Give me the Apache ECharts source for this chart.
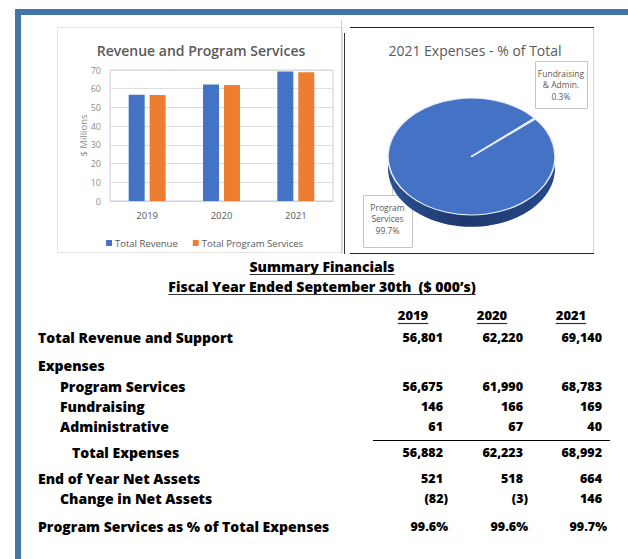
<!DOCTYPE html>
<html><head><meta charset="utf-8">
<script src="https://cdn.jsdelivr.net/npm/echarts@6/dist/echarts.min.js"></script>
<style>
html,body{margin:0;padding:0;background:#fff;overflow:hidden;}
#main{position:absolute;left:0;top:0;width:628px;height:559px;}
#pie{position:absolute;left:380px;top:90px;width:184px;height:200px;transform:scaleY(0.7);transform-origin:0 0;}
</style></head><body>
<div id="main"></div><div id="pie"></div>
<script>
// ---------- data ----------
const years = ['2019', '2020', '2021'];
const totalRevenue = [56.801, 62.220, 69.140];          // $ millions
const totalProgramServices = [56.675, 61.990, 68.783];  // $ millions
const yMin = 0, yMax = 70, yInterval = 10;

const pieNames = ['Program Services', 'Fundraising & Admin.'];
const pieLabelLines = [['Program', 'Services'], ['Fundraising', '& Admin.']];
const pieValues = [99.7, 0.3];

const rowLabels = ['Total Revenue and Support', 'Expenses', 'Program Services', 'Fundraising',
  'Administrative', 'Total Expenses', 'End of Year Net Assets', 'Change in Net Assets',
  'Program Services as % of Total Expenses'];
const rowFormats = ['int', 'none', 'int', 'int', 'int', 'int', 'int', 'int', 'pct'];
const values2019 = [56801, null, 56675, 146, 61, 56882, 521, -82, 99.6];
const values2020 = [62220, null, 61990, 166, 67, 62223, 518, -3, 99.6];
const values2021 = [69140, null, 68783, 169, 40, 68992, 664, 146, 99.7];
const tableTitle = 'Summary Financials';
const tableSubtitle = 'Fiscal Year Ended September 30th  ($ 000\u2019s)';

// ---------- layout ----------
const FF = '"Open Sans"';
const rowY = [337, 365, 386, 406, 426, 452, 478, 498, 526];
const rowX = [38, 38, 60, 60, 60, 72, 38, 60, 38];
const colRight = [443, 523, 602];
const colCenter = [413, 492, 571];
const LABFONT = '800 14px ' + FF;
const NUMFONT = '800 12.5px ' + FF;
const YRFONT = '800 13px ' + FF;
const measureCtx = document.createElement('canvas').getContext('2d');
function tw(t, font) { measureCtx.font = font; return measureCtx.measureText(t).width; }
function fmt(v, f) {
  if (v === null || f === 'none') return '';
  if (f === 'pct') return v.toFixed(1) + '%';
  if (v < 0) return '(' + Math.abs(v).toLocaleString('en-US') + ')';
  return v.toLocaleString('en-US');
}
function txt(x, y, t, font, fill, align) {
  return { type: 'text', x: x, y: y, silent: true,
    style: { text: t, font: font, fill: fill, textAlign: align || 'left', textVerticalAlign: 'middle',
      align: align || 'left', verticalAlign: 'middle' } };
}
function line(x1, y1, x2, y2, c, w) {
  return { type: 'line', silent: true, shape: { x1: x1, y1: y1, x2: x2, y2: y2 }, style: { stroke: c, lineWidth: w || 1 } };
}

const g = [];
// frame
g.push({ type: 'rect', shape: { x: 15, y: 9, width: 613, height: 6 }, style: { fill: '#4674a6' }, z: 10 });
g.push({ type: 'rect', shape: { x: 15, y: 9, width: 6, height: 550 }, style: { fill: '#4674a6' }, z: 10 });
// bar panel border
g.push({ type: 'rect', shape: { x: 57.5, y: 27.5, width: 285, height: 225 }, style: { fill: 'none', stroke: '#e2e2e2' } });
// pie panel borders
g.push(line(593.5, 27, 593.5, 253, '#d6d6d6'));
g.push(line(350, 27.5, 594, 27.5, '#222'));
g.push(line(350, 253.5, 594, 253.5, '#222'));
g.push(line(344.5, 33, 344.5, 254, '#333'));
g.push(line(341.5, 20, 341.5, 254, '#cfcfcf'));

// pie labels
const LFONT = '8.5px ' + FF;
function labelBox(x, y, w, h, lines) {
  g.push({ type: 'rect', shape: { x: x + 0.5, y: y + 0.5, width: w, height: h }, style: { fill: '#fff', stroke: '#c4c4c4' } });
  lines.forEach((t, i) => g.push(txt(x + w / 2, y + 12 + i * 11.5, t, LFONT, '#595959', 'center')));
}
labelBox(535, 61, 52, 47, pieLabelLines[1].concat([pieValues[1].toFixed(1) + '%']));
g.push(line(393, 195, 391, 168, '#c4c4c4'));
labelBox(363, 195, 49, 52, pieLabelLines[0].concat([pieValues[0].toFixed(1) + '%']));

// table titles
function underlined(cx, y, t, font) {
  const w = tw(t, font);
  g.push(txt(cx, y, t, font, '#000', 'center'));
  g.push(line(cx - w / 2, y + 8.5, cx + w / 2, y + 8.5, '#333', 1.2));
}
underlined(322, 266, tableTitle, LABFONT);
underlined(322, 286, tableSubtitle, LABFONT);
years.forEach((yr, i) => underlined(colCenter[i], 315, yr, YRFONT));

// table rows
const cols = [values2019, values2020, values2021];
rowLabels.forEach((lab, r) => {
  g.push(txt(rowX[r], rowY[r], lab, LABFONT, '#000', 'left'));
  cols.forEach((vals, c) => {
    const s = fmt(vals[r], rowFormats[r]);
    if (!s) return;
    const hang = (rowFormats[r] === 'pct' || vals[r] < 0) ? 5 : 0;
    g.push(txt(colRight[c] + hang, rowY[r], s, NUMFONT, '#000', 'right'));
  });
});
g.push(line(373, 440.5, 610, 440.5, '#000', 1));

const main = echarts.init(document.getElementById('main'), null, { renderer: 'svg' });
main.setOption({
  animation: false,
  backgroundColor: '#fff',
  textStyle: { fontFamily: 'Open Sans' },
  title: [
    { text: 'Revenue and Program Services', left: 196, top: 38, textAlign: 'center',
      textStyle: { fontFamily: 'Open Sans', fontSize: 14, fontWeight: 600, color: '#595959' } },
    { text: '2021 Expenses - % of Total', left: 470, top: 38, textAlign: 'center',
      textStyle: { fontFamily: 'Open Sans', fontSize: 14, fontWeight: 'normal', color: '#595959' } }
  ],
  legend: {
    data: ['Total Revenue', 'Total Program Services'], left: 101, top: 233,
    icon: 'rect', itemWidth: 6, itemHeight: 6, itemGap: 15,
    textStyle: { fontFamily: 'Open Sans', fontSize: 9.5, color: '#595959', padding: [0, 0, 0, -2] }
  },
  grid: { left: 110, right: 295, top: 70, bottom: 358, show: true, borderColor: '#c3cee6', borderWidth: 1, backgroundColor: 'transparent' },
  xAxis: {
    type: 'category', data: years,
    axisLine: { lineStyle: { color: '#d0d0d0' } }, axisTick: { show: false },
    axisLabel: { fontFamily: 'Open Sans', fontSize: 9.5, color: '#595959', margin: 9 }
  },
  yAxis: {
    type: 'value', min: yMin, max: yMax, interval: yInterval,
    name: '$ Millions', nameLocation: 'middle', nameRotate: 90, nameGap: 22, nameMoveOverlap: false,
    nameTextStyle: { fontFamily: 'Open Sans', fontSize: 9.5, color: '#8c8c8c' },
    axisLine: { show: false }, axisTick: { show: false },
    axisLabel: { fontFamily: 'Open Sans', fontSize: 9, color: '#8c8c8c', margin: 9 },
    splitLine: { lineStyle: { color: '#dedede' } }
  },
  series: [
    { name: 'Total Revenue', type: 'bar', data: totalRevenue, barWidth: 16, barGap: '31%',
      itemStyle: { color: '#4472c4' }, silent: true },
    { name: 'Total Program Services', type: 'bar', data: totalProgramServices, barWidth: 16,
      itemStyle: { color: '#ed7d31' }, silent: true }
  ],
  graphic: { elements: g }
});

// ---------- pie (drawn squashed to an ellipse) ----------
const pieData = pieNames.map((n, i) => ({ name: n, value: pieValues[i] }));
const cx = 91.5, cy = 95, R = 83.5, START = 40;
function pieLayer(dy, color, border, z) {
  return { type: 'pie', center: [cx, cy + dy], radius: R, startAngle: START, clockwise: true, z: z,
    data: pieData, silent: true, label: { show: false }, labelLine: { show: false },
    itemStyle: border ? { color: color, borderColor: '#e9eef8', borderWidth: 1.6 } : { color: color, borderWidth: 0 } };
}
const side = new echarts.graphic.LinearGradient(0, 0, 1, 0, [
  { offset: 0, color: '#2c5194' }, { offset: 0.45, color: '#1d386b' }, { offset: 1, color: '#27498a' }]);
const pie = echarts.init(document.getElementById('pie'), null, { renderer: 'svg' });
pie.setOption({
  animation: false,
  series: [
    pieLayer(17, side, false, 1),
    pieLayer(12, side, false, 2),
    pieLayer(6, side, false, 3),
    pieLayer(0, '#4472c4', true, 4)
  ]
});
</script>
</body></html>
